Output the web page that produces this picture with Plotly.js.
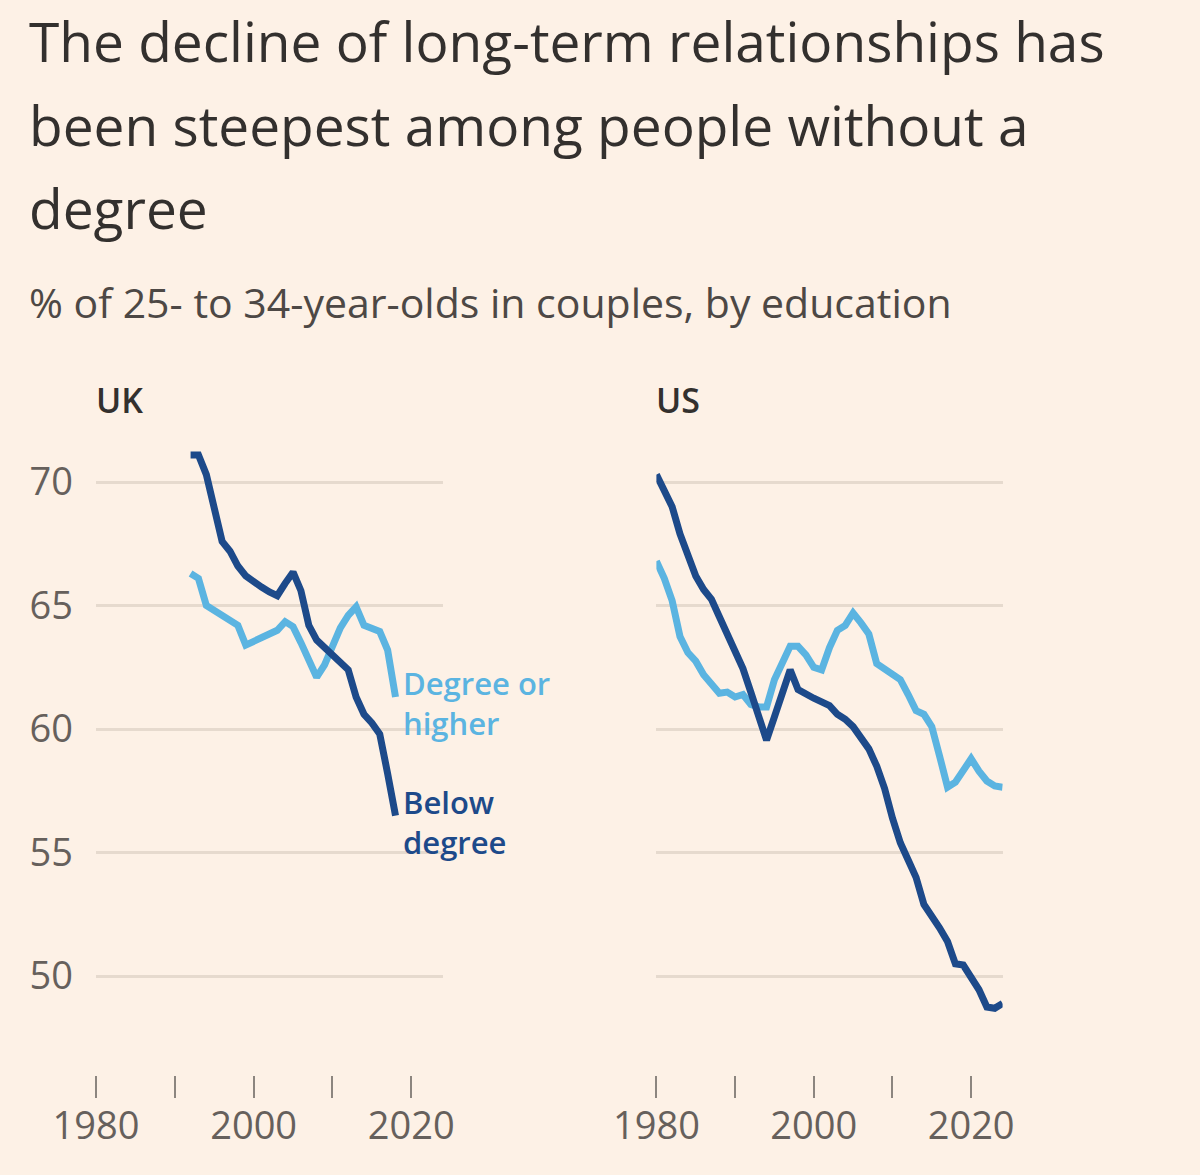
<!DOCTYPE html>
<html>
<head>
<meta charset="utf-8">
<script src="https://cdn.plot.ly/plotly-3.0.1.min.js"></script>
<style>
  html, body { margin: 0; padding: 0; background: #fdf1e6; }
  #chart { width: 1200px; height: 1175px; }
</style>
</head>
<body>
<div id="chart"></div>
<script>
// values
var titleLines = ["The decline of long-term relationships has", "been steepest among people without a", "degree"];
var subtitle = "% of 25- to 34-year-olds in couples, by education";
var panelNames = ["UK", "US"];
var seriesNames = ["Degree or<br>higher", "Below<br>degree"];

var ukYears = [1992, 1993, 1994, 1995, 1996, 1997, 1998, 1999, 2000, 2001, 2002, 2003, 2004, 2005,
  2006, 2007, 2008, 2009, 2010, 2011, 2012, 2013, 2014, 2015, 2016, 2017, 2018];
var ukBelow = [71.1, 71.1, 70.3, 68.9, 67.6, 67.2, 66.6, 66.2, 65.95, 65.75, 65.55, 65.4, 65.9, 66.35,
  65.6, 64.2, 63.6, 63.3, 62.95, 62.7, 62.4, 61.3, 60.6, 60.25, 59.8, 58.2, 56.5];
var ukDegree = [66.3, 66.1, 65.0, 64.8, 64.6, 64.4, 64.2, 63.4, 63.55, 63.7, 63.8, 64.0, 64.35, 64.15,
  63.5, 62.8, 62.1, 62.6, 63.45, 64.1, 64.6, 64.95, 64.2, 64.05, 63.95, 63.2, 61.3];

var usYears = [1980, 1981, 1982, 1983, 1984, 1985, 1986, 1987, 1988, 1989,
  1990, 1991, 1992, 1993, 1994, 1995, 1996, 1997, 1998, 1999,
  2000, 2001, 2002, 2003, 2004, 2005, 2006, 2007, 2008, 2009,
  2010, 2011, 2012, 2013, 2014, 2015, 2016, 2017, 2018, 2019,
  2020, 2021, 2022, 2023, 2024];
var usBelow = [70.3, 69.7, 69.0, 67.9, 67.0, 66.2, 65.65, 65.25, 64.55, 63.85,
  63.1, 62.45, 61.5, 60.5, 59.55, 60.5, 61.5, 62.4, 61.6, 61.4,
  61.25, 61.1, 60.95, 60.6, 60.4, 60.1, 59.65, 59.2, 58.5, 57.6,
  56.4, 55.4, 54.7, 54.0, 52.9, 52.45, 51.95, 51.4, 50.5, 50.45,
  49.9, 49.45, 48.75, 48.7, 48.9];
var usDegree = [66.8, 66.1, 65.2, 63.75, 63.1, 62.75, 62.2, 61.8, 61.45, 61.5,
  61.3, 61.4, 61.0, 60.9, 60.9, 62.0, 62.7, 63.35, 63.35, 63.0,
  62.5, 62.4, 63.3, 64.0, 64.2, 64.7, 64.3, 63.85, 62.65, 62.45,
  62.2, 62.0, 61.4, 60.75, 60.6, 60.1, 58.9, 57.65, 57.85, 58.3,
  58.8, 58.3, 57.9, 57.7, 57.65];

var yTicks = [50, 55, 60, 65, 70];
var xTicks = [1980, 1990, 2000, 2010, 2020];
var xTickText = ["1980", "", "2000", "", "2020"];

var dark = "#1d4a8a", light = "#5bb4e1";
var font = "Open Sans, sans-serif";

function line(x, y, color, xa, ya) {
  return {x: x, y: y, xaxis: xa, yaxis: ya, type: "scatter", mode: "lines",
    line: {color: color, width: 7, shape: "linear"}, hoverinfo: "skip"};
}

var traces = [
  line(ukYears, ukDegree, light, "x", "y"),
  line(ukYears, ukBelow, dark, "x", "y"),
  line(usYears, usDegree, light, "x2", "y2"),
  line(usYears, usBelow, dark, "x2", "y2")
];

function xaxis(domain, anchor) {
  return {domain: domain, range: [1980, 2024], anchor: anchor,
    tickvals: xTicks, ticktext: xTickText, ticks: "outside", ticklen: 22, tickwidth: 2,
    tickcolor: "#8c857f", showgrid: false, zeroline: false, showline: false,
    ticklabelstandoff: -5, tickfont: {family: font, size: 38, color: "#66605c"}, fixedrange: true};
}
function yaxis(anchor, labels) {
  return {domain: [0.0851, 0.6318], range: [46, 72], anchor: anchor,
    tickvals: yTicks, showticklabels: labels, ticks: "", showgrid: true,
    gridcolor: "#e6dace", gridwidth: 3, zeroline: false, showline: false,
    ticklabelstandoff: 22, tickfont: {family: font, size: 38, color: "#66605c"}, fixedrange: true};
}

// pixel helpers for text placement
function px(v) { return v / 1200; }
function py(v) { return 1 - v / 1175; }
function note(text, x, y, size, color, weight) {
  return {text: text, xref: "paper", yref: "paper", x: px(x), y: py(y), xanchor: "left",
    yanchor: "middle", align: "left", showarrow: false,
    font: {family: font, size: size, color: color, weight: weight || 400}};
}

var annotations = [
  note(titleLines[0], 27, 41, 55, "#33302e"),
  note(titleLines[1], 27, 124, 55, "#33302e"),
  note(titleLines[2], 27, 207, 55, "#33302e"),
  note(subtitle, 27, 302, 41, "#4d4845"),
  note(panelNames[0], 94, 400, 34, "#33302e", 600),
  note(panelNames[1], 654, 400, 34, "#33302e", 600),
  note(seriesNames[0], 401, 703, 31, light, 600),
  note(seriesNames[1], 401, 822, 31, dark, 600)
];

var layout = {
  width: 1200, height: 1175,
  margin: {l: 0, r: 0, t: 0, b: 0},
  paper_bgcolor: "#fdf1e6", plot_bgcolor: "#fdf1e6",
  showlegend: false,
  xaxis: xaxis([0.08, 0.369], "y"),
  yaxis: yaxis("x", true),
  xaxis2: xaxis([0.547, 0.8355], "y2"),
  yaxis2: yaxis("x2", false),
  annotations: annotations
};

Plotly.newPlot(document.getElementById("chart"), traces, layout, {displayModeBar: false, staticPlot: true});
</script>
</body>
</html>
